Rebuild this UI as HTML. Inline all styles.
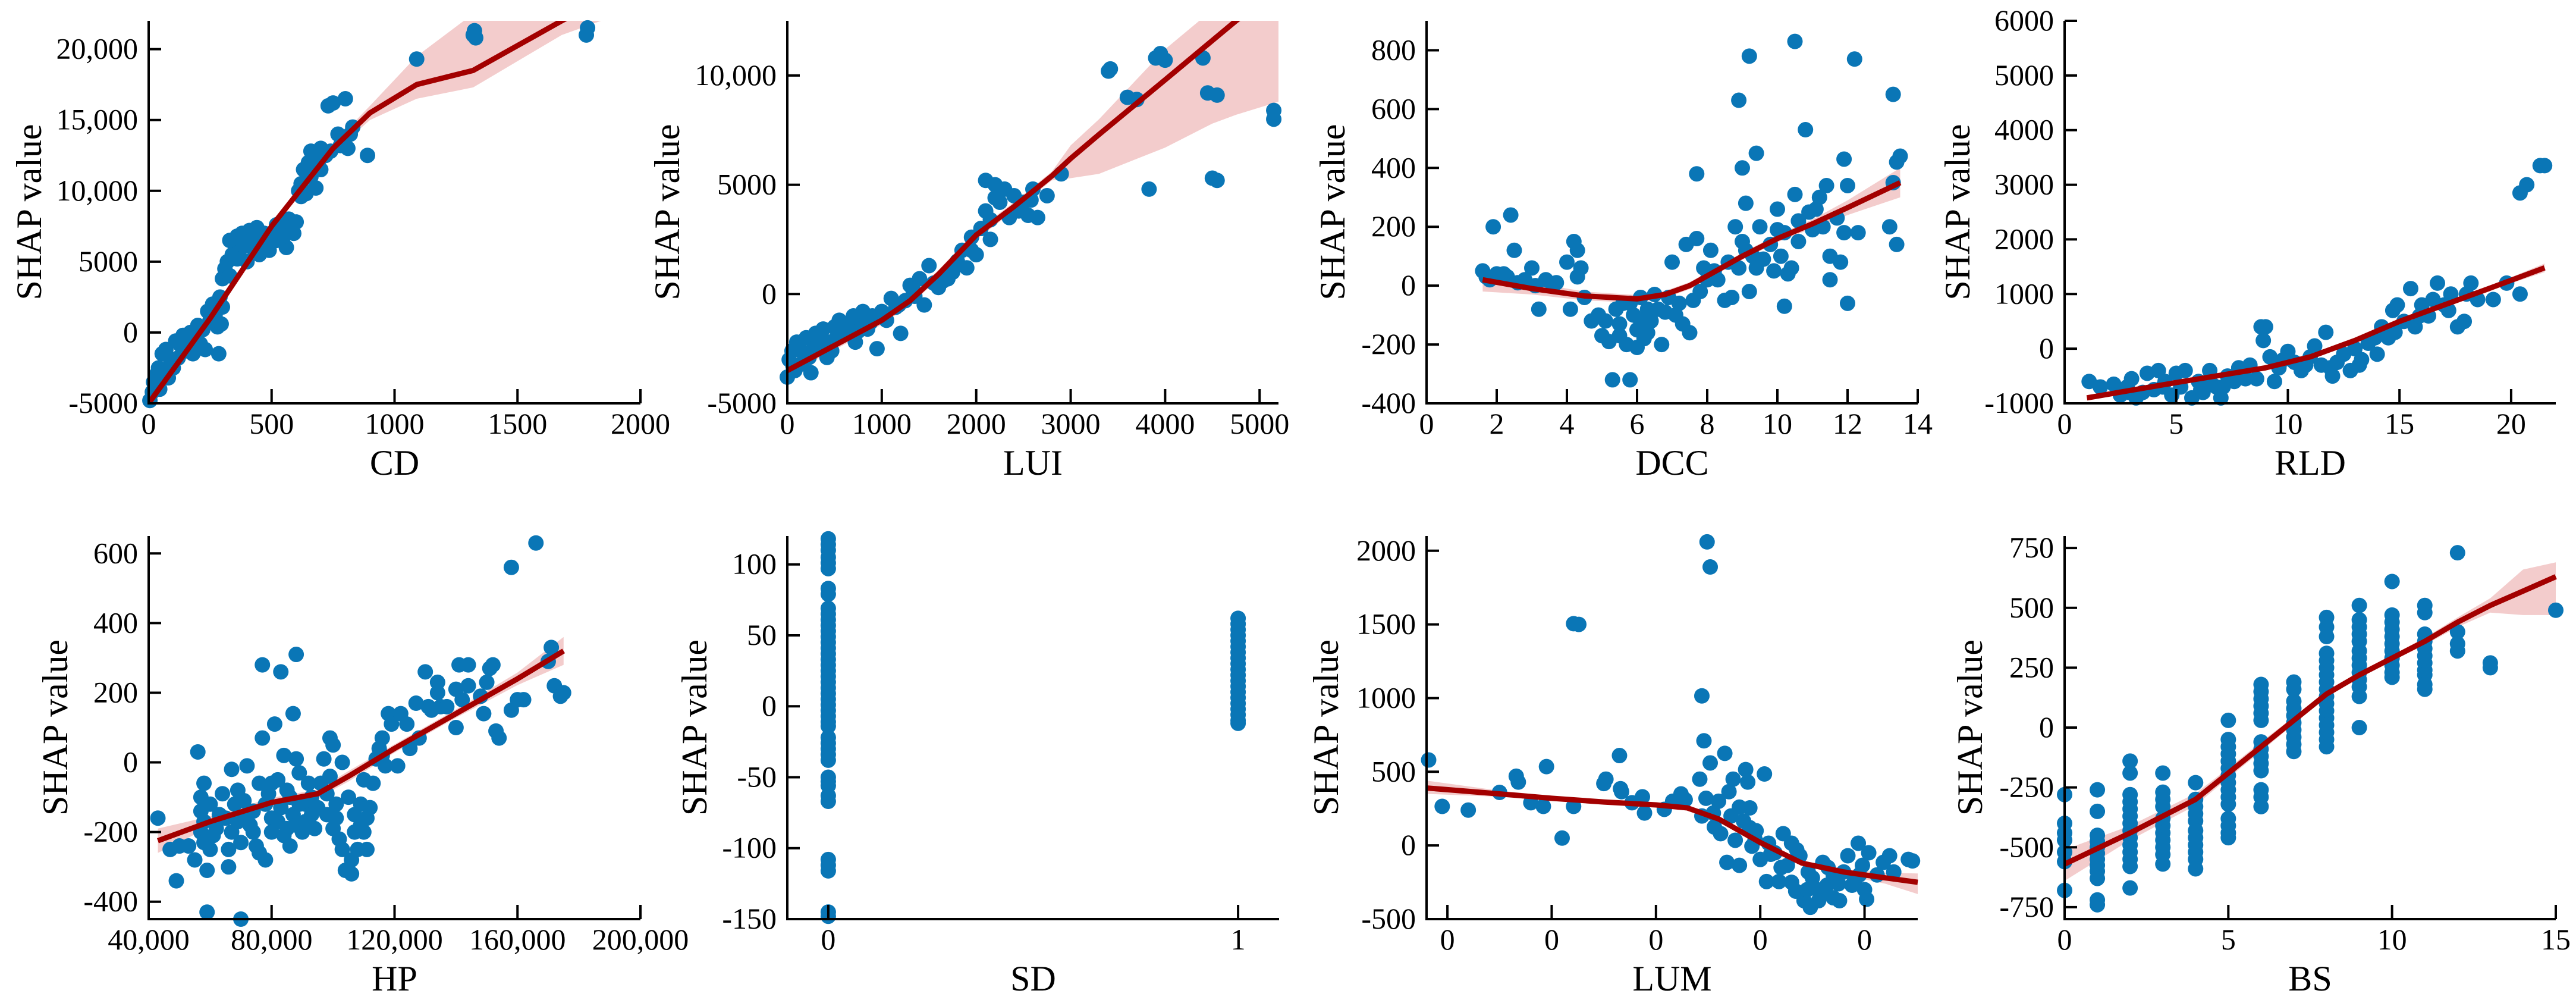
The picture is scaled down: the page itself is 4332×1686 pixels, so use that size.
<!DOCTYPE html>
<html><head><meta charset="utf-8"><style>
html,body{margin:0;padding:0;background:#fff;}
svg{display:block;}
svg text{font-family:"Liberation Serif","Times New Roman",serif;}
</style></head><body>
<svg id="fig" width="4332" height="1686" viewBox="0 0 4332 1686" xmlns="http://www.w3.org/2000/svg" font-family="Liberation Serif, serif"></svg>
<script>
// ===== CD =====
const cdPoints=[[5,-4800],[15,-4200],[20,-3500],[30,-3000],[40,-2500],[45,-4000],[55,-1500],[60,-2800],[70,-1200],[80,-3200],[90,-2000],[100,-2500],[110,-600],[120,-1800],[130,-900],[140,-200],[150,-1300],[160,-500],[170,0],[180,-1500],[190,-200],[200,500],[210,-800],[220,200],[230,-1200],[240,1500],[250,900],[260,2000],[270,1200],[280,400],[285,-1500],[290,2500],[295,600],[300,1800],[300,3800],[310,4500],[320,5000],[330,4000],[340,5500],[350,6200],[360,6800],[370,5800],[380,7000],[390,6500],[400,5000],[410,7200],[420,6000],[430,6800],[440,7400],[450,5500],[460,6500],[470,7000],[480,6200],[490,5800],[500,7000],[520,6500],[540,7200],[560,6000],[570,8000],[580,7500],[600,7800],[610,10000],[620,10500],[630,11500],[640,9800],[650,12000],[660,11000],[670,12500],[680,10200],[690,11800],[700,13000],[720,12500],[730,16000],[750,16200],[770,14000],[790,13500],[800,16500],[810,13000],[830,14500],[890,12500],[1090,19300],[1320,21000],[1325,21300],[1330,20800],[1780,21000],[1785,21500],[330,6500],[360,5200],[410,6400],[440,6000],[520,7600],[550,6800],[590,7000],[620,9600],[660,12800],[700,11500],[740,12800],[780,13200],[820,14000]];
const cdLineX=[0,250,500,750,900,1090,1320,1680,2000];
const cdLineY=[-5000,1000,7500,13000,15500,17500,18500,22000,25000];
const cdBandLo=[-5300,700,7200,12700,15000,16500,17300,21000,23000];
const cdBandHi=[-4700,1300,7800,13300,16000,19500,22500,23000,27000];
const cdXTicks=[0,500,1000,1500,2000];
const cdXLabels=["0","500","1000","1500","2000"];
const cdYTicks=[-5000,0,5000,10000,15000,20000];
const cdYLabels=["-5000","0","5000","10,000","15,000","20,000"];
// ===== LUI =====
const luiPoints=[[0,-3800],[20,-3000],[50,-2600],[80,-3500],[100,-2200],[150,-3200],[180,-2800],[200,-2000],[250,-3600],[280,-2500],[300,-1800],[350,-2400],[380,-1600],[420,-2900],[450,-2200],[500,-1500],[520,-2000],[550,-1200],[600,-1800],[650,-1400],[700,-1000],[720,-2200],[780,-1300],[800,-800],[850,-1600],[900,-1000],[950,-2500],[1000,-800],[1050,-1200],[1100,-200],[1150,-600],[1200,-1800],[1250,-300],[1300,400],[1350,-100],[1400,700],[1450,-500],[1500,1300],[1550,500],[1600,300],[1700,700],[1800,1500],[1850,2000],[1900,1200],[1950,2600],[2000,1800],[2050,3000],[2100,3800],[2100,5200],[2150,2500],[2200,5000],[2250,4200],[2300,4800],[2350,3500],[2400,4500],[2500,4200],[2550,3600],[2600,4800],[2650,3500],[2750,4500],[2900,5500],[3400,10200],[3420,10300],[3600,9000],[3700,8900],[3830,4800],[3900,10800],[3950,11000],[4000,10700],[4400,10800],[4450,9200],[4550,9100],[4500,5300],[4550,5200],[5150,8400],[5150,8000],[60,-3300],[130,-2500],[230,-2900],[330,-2100],[470,-2600],[620,-1500],[750,-1700],[880,-1300],[1020,-1000],[1180,-500],[1330,200],[1650,600],[1750,1000],[1950,2000],[2150,3400],[2200,4400],[2450,3800],[2580,4300]];
const luiLineX=[0,1000,1300,1600,2000,2400,2800,3000,3300,4000,4500,4750,5200];
const luiLineY=[-3500,-1200,-300,900,2700,4000,5400,6200,7300,9800,11600,12500,14000];
const luiBandLo=[-3700,-1400,-500,700,2500,3800,5200,5300,5500,6700,7800,8200,8800];
const luiBandHi=[-3300,-1000,-100,1100,2900,4200,5600,6800,8000,11200,13000,14000,15000];
const luiXTicks=[0,1000,2000,3000,4000,5000];
const luiXLabels=["0","1000","2000","3000","4000","5000"];
const luiYTicks=[-5000,0,5000,10000];
const luiYLabels=["-5000","0","5000","10,000"];
// ===== DCC =====
const dccPoints=[[1.6,50],[1.8,20],[1.9,200],[2.0,40],[2.3,30],[2.4,240],[2.5,120],[2.6,10],[3.0,60],[3.1,0],[3.2,-80],[3.4,20],[3.7,10],[4.0,80],[4.1,-80],[4.2,150],[4.3,120],[4.3,30],[4.5,-40],[4.7,-120],[4.9,-100],[5.0,-170],[5.2,-190],[5.3,-320],[5.4,-80],[5.5,-130],[5.6,-60],[5.7,-200],[5.8,-320],[5.9,-100],[6.0,-150],[6.0,-210],[6.1,-40],[6.2,-180],[6.3,-80],[6.4,-120],[6.5,-30],[6.7,-200],[6.8,-90],[7.0,80],[7.2,-60],[7.3,-130],[7.4,140],[7.5,-160],[7.7,160],[7.7,380],[7.8,-20],[8.0,20],[8.1,120],[8.2,50],[8.5,-50],[8.7,-40],[8.8,200],[8.9,630],[8.9,60],[9.0,400],[9.0,150],[9.1,280],[9.2,780],[9.2,-20],[9.3,100],[9.4,450],[9.5,200],[9.6,90],[9.9,50],[10.0,190],[10.0,260],[10.1,100],[10.2,-70],[10.3,40],[10.4,60],[10.5,310],[10.5,830],[10.6,150],[10.8,530],[10.9,250],[11.0,190],[11.2,300],[11.4,340],[11.5,100],[11.5,20],[11.8,80],[11.9,180],[11.9,430],[12.0,-60],[12.0,340],[12.2,770],[12.3,180],[13.2,200],[13.3,650],[13.3,350],[13.4,140],[13.4,420],[13.5,440],[1.7,30],[2.2,40],[2.8,20],[3.6,0],[4.4,60],[5.1,-120],[5.5,-170],[5.8,-60],[6.1,-120],[6.3,-160],[6.6,-80],[6.9,-40],[7.1,-100],[7.6,-50],[7.9,60],[8.3,20],[8.6,80],[9.1,120],[9.4,60],[9.8,140],[10.2,180],[10.6,220],[11.1,260],[11.3,200],[11.7,230]];
const dccLineX=[1.6,3,4.5,6,6.8,7.5,9,10,11,12,13.5];
const dccLineY=[20,-10,-35,-45,-30,0,100,160,210,265,350];
const dccBandLo=[-20,-30,-50,-58,-42,-12,88,148,195,240,300];
const dccBandHi=[60,10,-20,-32,-18,12,112,172,225,290,400];
const dccXTicks=[0,2,4,6,8,10,12,14];
const dccXLabels=["0","2","4","6","8","10","12","14"];
const dccYTicks=[-400,-200,0,200,400,600,800];
const dccYLabels=["-400","-200","0","200","400","600","800"];
// ===== RLD =====
const rldPoints=[[1.1,-600],[1.6,-700],[2.2,-650],[2.5,-850],[2.8,-700],[3.0,-550],[3.2,-900],[3.5,-800],[3.7,-450],[4.0,-750],[4.2,-400],[4.5,-600],[4.8,-850],[5.0,-450],[5.2,-700],[5.4,-400],[5.7,-900],[6.0,-600],[6.2,-800],[6.5,-400],[6.8,-700],[7.0,-900],[7.3,-500],[7.6,-600],[7.8,-350],[8.0,-450],[8.3,-300],[8.6,-550],[8.8,400],[8.9,150],[9.0,400],[9.2,-150],[9.4,-600],[9.6,-350],[10.0,-50],[10.3,-250],[10.6,-400],[11.0,-150],[11.2,50],[11.5,-300],[11.7,300],[12.0,-500],[12.2,-250],[12.5,-100],[12.8,-400],[13.0,0],[13.3,-200],[13.6,100],[14.0,-100],[14.2,400],[14.5,200],[14.7,700],[14.9,800],[15.2,500],[15.5,1100],[15.7,400],[16.0,800],[16.3,600],[16.7,1200],[17.0,800],[17.3,1000],[17.6,400],[17.9,500],[18.2,1200],[18.5,900],[19.2,900],[19.8,1200],[20.4,1000],[20.4,2850],[20.7,3000],[21.3,3350],[21.5,3350],[2.9,-800],[4.4,-700],[6.1,-750],[6.6,-650],[7.1,-700],[8.1,-550],[9.8,-200],[10.8,-300],[11.9,-350],[13.2,-300],[13.9,200],[14.8,300],[15.9,600],[16.5,900],[17.2,700],[18.0,1000]];
const rldLineX=[1,5,9,11,13,15,17,19,21.5];
const rldLineY=[-900,-620,-350,-150,150,500,800,1100,1480];
const rldBandLo=[-950,-650,-380,-180,120,470,770,1060,1400];
const rldBandHi=[-850,-590,-320,-120,180,530,830,1140,1560];
const rldXTicks=[0,5,10,15,20];
const rldXLabels=["0","5","10","15","20"];
const rldYTicks=[-1000,0,1000,2000,3000,4000,5000,6000];
const rldYLabels=["-1000","0","1000","2000","3000","4000","5000","6000"];
// ===== HP =====
const hpPoints=[[43000,-160],[47000,-250],[49000,-340],[50000,-240],[53000,-240],[55000,-280],[56000,30],[57000,-100],[57000,-200],[58000,-60],[58000,-170],[59000,-310],[59000,-430],[60000,-250],[60000,-120],[62000,-190],[64000,-90],[65000,-160],[66000,-300],[66000,-250],[67000,-20],[68000,-120],[69000,-170],[70000,-230],[70000,-450],[71000,-110],[72000,-10],[73000,-180],[74000,-140],[75000,-240],[76000,-60],[76000,-260],[77000,280],[77000,70],[78000,-280],[79000,-90],[80000,-160],[80000,-200],[81000,110],[82000,-50],[83000,-130],[83000,260],[84000,20],[85000,-190],[85000,-80],[86000,-240],[87000,140],[87000,-150],[88000,310],[88000,10],[89000,-30],[90000,-200],[91000,-120],[92000,-60],[93000,-150],[94000,-190],[96000,-60],[97000,10],[98000,-150],[99000,70],[99000,-40],[100000,-190],[100000,50],[101000,-120],[102000,-220],[103000,0],[104000,-310],[105000,-100],[106000,-280],[106000,-320],[107000,-150],[108000,-250],[109000,-120],[110000,-200],[110000,-50],[111000,-250],[112000,-130],[114000,10],[115000,40],[116000,70],[117000,-10],[118000,140],[119000,110],[121000,-10],[122000,140],[125000,40],[127000,170],[128000,70],[130000,260],[132000,150],[134000,200],[134000,230],[135000,160],[140000,210],[140000,100],[141000,280],[142000,180],[144000,280],[144000,220],[148000,190],[149000,140],[150000,230],[151000,270],[152000,280],[153000,90],[154000,70],[158000,560],[158000,150],[160000,180],[162000,180],[166000,630],[170000,290],[171000,330],[172000,220],[174000,190],[175000,200],[57000,-140],[58000,-230],[61000,-210],[63000,-150],[67000,-200],[69000,-80],[72000,-150],[74000,-200],[78000,-120],[80000,-60],[82000,-170],[84000,-210],[86000,-100],[88000,-180],[89000,-120],[91000,-170],[93000,-100],[95000,-130],[98000,-90],[101000,-160],[103000,-250],[107000,-200],[109000,-180],[111000,-160],[113000,-60],[116000,20],[124000,110],[131000,160],[137000,160]];
const hpLineX=[43000,60000,80000,95000,105000,120000,140000,160000,175000];
const hpLineY=[-225,-170,-115,-90,-40,40,140,240,320];
const hpBandLo=[-260,-185,-128,-102,-55,28,128,222,280];
const hpBandHi=[-190,-155,-102,-78,-25,52,152,258,360];
const hpXTicks=[40000,80000,120000,160000,200000];
const hpXLabels=["40,000","80,000","120,000","160,000","200,000"];
const hpYTicks=[-400,-200,0,200,400,600];
const hpYLabels=["-400","-200","0","200","400","600"];
// ===== SD =====
const sdZeroValues=[118,114,110,105,101,97,83,79,69,65,61,57,53,49,45,41,37,33,29,25,21,17,13,9,5,1,-3,-7,-11,-14,-22,-26,-30,-34,-38,-50,-53,-56,-63,-67,-108,-112,-116,-145,-148];
const sdOneValues=[62,58,54,50,46,42,38,34,30,26,22,18,14,10,6,2,-2,-6,-10,-12];
const sdXTicks=[0,1];
const sdXLabels=["0","1"];
const sdYTicks=[-150,-100,-50,0,50,100];
const sdYLabels=["-150","-100","-50","0","50","100"];
// ===== LUM =====
const lumPoints=[[-0.18,580],[-0.05,265],[0.2,240],[0.5,360],[0.66,470],[0.68,430],[0.8,290],[0.92,265],[0.95,535],[1.1,50],[1.21,1505],[1.26,1500],[1.21,265],[1.5,420],[1.52,450],[1.65,610],[1.66,385],[1.67,365],[1.77,290],[1.87,330],[1.89,220],[2.08,245],[2.16,300],[2.24,350],[2.28,310],[2.42,450],[2.44,1015],[2.46,710],[2.49,2060],[2.52,1890],[2.44,200],[2.48,320],[2.52,560],[2.56,125],[2.62,80],[2.66,625],[2.68,-115],[2.7,365],[2.74,450],[2.76,35],[2.8,-135],[2.84,165],[2.86,515],[2.88,430],[2.9,255],[2.92,-5],[2.96,100],[3.0,-95],[3.04,485],[3.06,-245],[3.08,15],[3.14,-50],[3.18,-245],[3.22,80],[3.26,-135],[3.3,15],[3.34,-310],[3.38,-70],[3.42,-375],[3.46,-180],[3.48,-420],[3.52,-290],[3.56,-375],[3.6,-115],[3.64,-270],[3.7,-355],[3.76,-375],[3.8,-180],[3.84,-70],[3.88,-270],[3.94,15],[3.98,-135],[4.02,-365],[4.04,-50],[4.12,-200],[4.18,-115],[4.24,-70],[4.28,-180],[4.42,-95],[4.46,-105],[2.6,300],[2.72,200],[2.9,120],[3.1,-60],[3.2,-150],[3.3,-250],[3.45,-300],[3.6,-330],[3.7,-200],[3.9,-250],[3.35,-30],[2.95,40],[2.8,260],[2.55,220],[3.5,-220],[3.75,-260],[4.0,-300],[3.65,-150],[3.95,-200]];
const lumLineX=[-0.2,0.5,1,1.5,2,2.3,2.6,3,3.4,3.8,4.2,4.51];
const lumLineY=[390,350,320,295,275,255,180,20,-120,-180,-220,-250];
const lumBandLo=[350,330,305,283,263,243,165,5,-135,-200,-260,-330];
const lumBandHi=[440,372,335,307,287,267,195,35,-105,-160,-185,-190];
const lumXTicks=[0,1,2,3,4];
const lumXLabels=["0","0","0","0","0"];
const lumYTicks=[-500,0,500,1000,1500,2000];
const lumYLabels=["-500","0","500","1000","1500","2000"];
// ===== BS =====
const bsPoints=[[0,-280],[0,-400],[0,-440],[0,-470],[0,-520],[0,-560],[0,-680],[1,-260],[1,-350],[1,-450],[1,-475],[1,-500],[1,-525],[1,-550],[1,-575],[1,-600],[1,-630],[1,-720],[1,-740],[2,-140],[2,-190],[2,-280],[2,-310],[2,-340],[2,-370],[2,-400],[2,-430],[2,-460],[2,-490],[2,-520],[2,-550],[2,-580],[2,-670],[3,-190],[3,-270],[3,-300],[3,-330],[3,-380],[3,-410],[3,-440],[3,-470],[3,-500],[3,-530],[3,-570],[4,-230],[4,-300],[4,-330],[4,-360],[4,-390],[4,-430],[4,-460],[4,-490],[4,-520],[4,-550],[4,-590],[5,30],[5,-50],[5,-80],[5,-110],[5,-140],[5,-170],[5,-200],[5,-230],[5,-260],[5,-290],[5,-320],[5,-380],[5,-410],[5,-440],[5,-460],[6,180],[6,150],[6,120],[6,90],[6,60],[6,30],[6,-60],[6,-90],[6,-120],[6,-150],[6,-180],[6,-260],[6,-290],[6,-330],[7,190],[7,160],[7,110],[7,80],[7,50],[7,20],[7,-10],[7,-40],[7,-70],[7,-100],[8,460],[8,420],[8,380],[8,310],[8,280],[8,250],[8,220],[8,190],[8,160],[8,130],[8,100],[8,70],[8,40],[8,10],[8,-20],[8,-50],[8,-80],[9,510],[9,450],[9,420],[9,390],[9,360],[9,320],[9,290],[9,260],[9,230],[9,200],[9,170],[9,130],[9,0],[10,610],[10,470],[10,440],[10,410],[10,380],[10,350],[10,320],[10,290],[10,260],[10,230],[10,210],[11,510],[11,480],[11,390],[11,360],[11,330],[11,300],[11,270],[11,240],[11,220],[11,180],[11,160],[12,730],[12,400],[12,350],[12,320],[13,270],[13,250],[15,490]];
const bsLineX=[0,2,4,5,6,7,8,9,10,11,12,13,14,15];
const bsLineY=[-570,-440,-300,-190,-80,30,140,220,290,360,440,510,570,630];
const bsBandLo=[-640,-470,-325,-210,-100,15,128,208,278,345,420,480,470,470];
const bsBandHi=[-510,-410,-275,-170,-60,45,152,232,302,375,460,540,660,690];
const bsXTicks=[0,5,10,15];
const bsXLabels=["0","5","10","15"];
const bsYTicks=[-750,-500,-250,0,250,500,750];
const bsYLabels=["-750","-500","-250","0","250","500","750"];

const NS="http://www.w3.org/2000/svg";
const svg=document.getElementById('fig');
const FONT='Liberation Serif, Times New Roman, serif';
function mk(tag,attrs,parent){const e=document.createElementNS(NS,tag);for(const k in attrs)e.setAttribute(k,attrs[k]);(parent||svg).appendChild(e);return e;}

function panel(cfg){
  const g=mk('g',{});
  
  
  const L=cfg.left,R=cfg.right,T=cfg.top,B=cfg.bottom;
  const sx=v=>L+(v-cfg.xmin)/(cfg.xmax-cfg.xmin)*(R-L);
  const sy=v=>B-(v-cfg.ymin)/(cfg.ymax-cfg.ymin)*(B-T);
  const cid='clip-'+cfg.name;
  const cp=mk('clipPath',{id:cid},g);
  mk('rect',{x:L,y:T,width:R-L+20,height:B-T},cp);
  if(cfg.lineX){
    let d='';
    cfg.lineX.forEach((x,i)=>{d+=(i?'L':'M')+sx(x)+','+sy(cfg.bandHi[i]);});
    for(let i=cfg.lineX.length-1;i>=0;i--)d+='L'+sx(cfg.lineX[i])+','+sy(cfg.bandLo[i]);
    const band=mk('path',{d:d+'Z',fill:'#e9a3a3','fill-opacity':0.55,'clip-path':'url(#'+cid+')'},g);
    
    
  }
  const pts=mk('g',{fill:'#0a76b6'},g);
  
  
  cfg.points.forEach(p=>{
    const c=mk('circle',{cx:sx(p[0]),cy:sy(p[1]),r:13},pts);
    
    
  });
  if(cfg.lineX){
    let d='';
    cfg.lineX.forEach((x,i)=>{d+=(i?'L':'M')+sx(x)+','+sy(cfg.lineY[i]);});
    const ln=mk('path',{d:d,fill:'none',stroke:'#a30000','stroke-width':9,'stroke-linejoin':'round','clip-path':'url(#'+cid+')'},g);
    
    
  }
  const ax=mk('path',{d:`M${L},${T}L${L},${B}L${R},${B}`,fill:'none',stroke:'#000','stroke-width':4},g);
  
  
  cfg.xTicks.forEach((v,i)=>{
    const x=sx(v);
    mk('line',{x1:x,y1:B,x2:x,y2:B-24,stroke:'#000','stroke-width':4},g);
    const t=mk('text',{x:x,y:B+51,'font-size':50,'text-anchor':'middle','font-family':FONT},g);
    t.textContent=cfg.xLabels[i];
    
    
  });
  cfg.yTicks.forEach((v,i)=>{
    const y=sy(v);
    mk('line',{x1:L,y1:y,x2:L+21,y2:y,stroke:'#000','stroke-width':4},g);
    const t=mk('text',{x:L-18,y:y+16,'font-size':50,'text-anchor':'end','font-family':FONT},g);
    t.textContent=cfg.yLabels[i];
    
    
  });
  const xt=mk('text',{x:(L+R)/2,y:B+120,'font-size':60,'text-anchor':'middle','font-family':FONT},g);
  xt.textContent=cfg.xTitle;
  
  
  const cy=(T+B)/2, cx=L-cfg.titleOff;
  const yt=mk('text',{x:cx,y:cy,'font-size':60,'text-anchor':'middle',transform:`rotate(-90 ${cx} ${cy})`,'dominant-baseline':'central','font-family':FONT},g);
  yt.textContent='SHAP value';
  
  
}
const TOP={top:35,bottom:678}, BOT={top:901,bottom:1545};
panel(Object.assign({name:'cd',left:250,right:1077,xmin:0,xmax:2000,ymin:-5000,ymax:22000,points:cdPoints,lineX:cdLineX,lineY:cdLineY,bandLo:cdBandLo,bandHi:cdBandHi,xTicks:cdXTicks,xLabels:cdXLabels,yTicks:cdYTicks,yLabels:cdYLabels,xTitle:'CD',titleOff:201},TOP));
panel(Object.assign({name:'lui',left:1324,right:2150,xmin:0,xmax:5200,ymin:-5000,ymax:12500,points:luiPoints,lineX:luiLineX,lineY:luiLineY,bandLo:luiBandLo,bandHi:luiBandHi,xTicks:luiXTicks,xLabels:luiXLabels,yTicks:luiYTicks,yLabels:luiYLabels,xTitle:'LUI',titleOff:202},TOP));
panel(Object.assign({name:'dcc',left:2399,right:3225,xmin:0,xmax:14,ymin:-400,ymax:900,points:dccPoints,lineX:dccLineX,lineY:dccLineY,bandLo:dccBandLo,bandHi:dccBandHi,xTicks:dccXTicks,xLabels:dccXLabels,yTicks:dccYTicks,yLabels:dccYLabels,xTitle:'DCC',titleOff:158},TOP));
panel(Object.assign({name:'rld',left:3472,right:4298,xmin:0,xmax:22,ymin:-1000,ymax:6000,points:rldPoints,lineX:rldLineX,lineY:rldLineY,bandLo:rldBandLo,bandHi:rldBandHi,xTicks:rldXTicks,xLabels:rldXLabels,yTicks:rldYTicks,yLabels:rldYLabels,xTitle:'RLD',titleOff:180},TOP));
panel(Object.assign({name:'hp',left:250,right:1077,xmin:40000,xmax:200000,ymin:-450,ymax:650,points:hpPoints,lineX:hpLineX,lineY:hpLineY,bandLo:hpBandLo,bandHi:hpBandHi,xTicks:hpXTicks,xLabels:hpXLabels,yTicks:hpYTicks,yLabels:hpYLabels,xTitle:'HP',titleOff:157},BOT));
const sdPoints=sdZeroValues.map(v=>[0,v]).concat(sdOneValues.map(v=>[1,v]));
panel(Object.assign({name:'sd',left:1324,right:2151,xmin:-0.1,xmax:1.1,ymin:-150,ymax:120,points:sdPoints,xTicks:sdXTicks,xLabels:sdXLabels,yTicks:sdYTicks,yLabels:sdYLabels,xTitle:'SD',titleOff:156},BOT));
panel(Object.assign({name:'lum',left:2399,right:3225,xmin:-0.2,xmax:4.51,ymin:-500,ymax:2100,points:lumPoints,lineX:lumLineX,lineY:lumLineY,bandLo:lumBandLo,bandHi:lumBandHi,xTicks:lumXTicks,xLabels:lumXLabels,yTicks:lumYTicks,yLabels:lumYLabels,xTitle:'LUM',titleOff:169},BOT));
panel(Object.assign({name:'bs',left:3472,right:4298,xmin:0,xmax:15,ymin:-800,ymax:800,points:bsPoints,lineX:bsLineX,lineY:bsLineY,bandLo:bsBandLo,bandHi:bsBandHi,xTicks:bsXTicks,xLabels:bsXLabels,yTicks:bsYTicks,yLabels:bsYLabels,xTitle:'BS',titleOff:159},BOT));
</script>
</body></html>
